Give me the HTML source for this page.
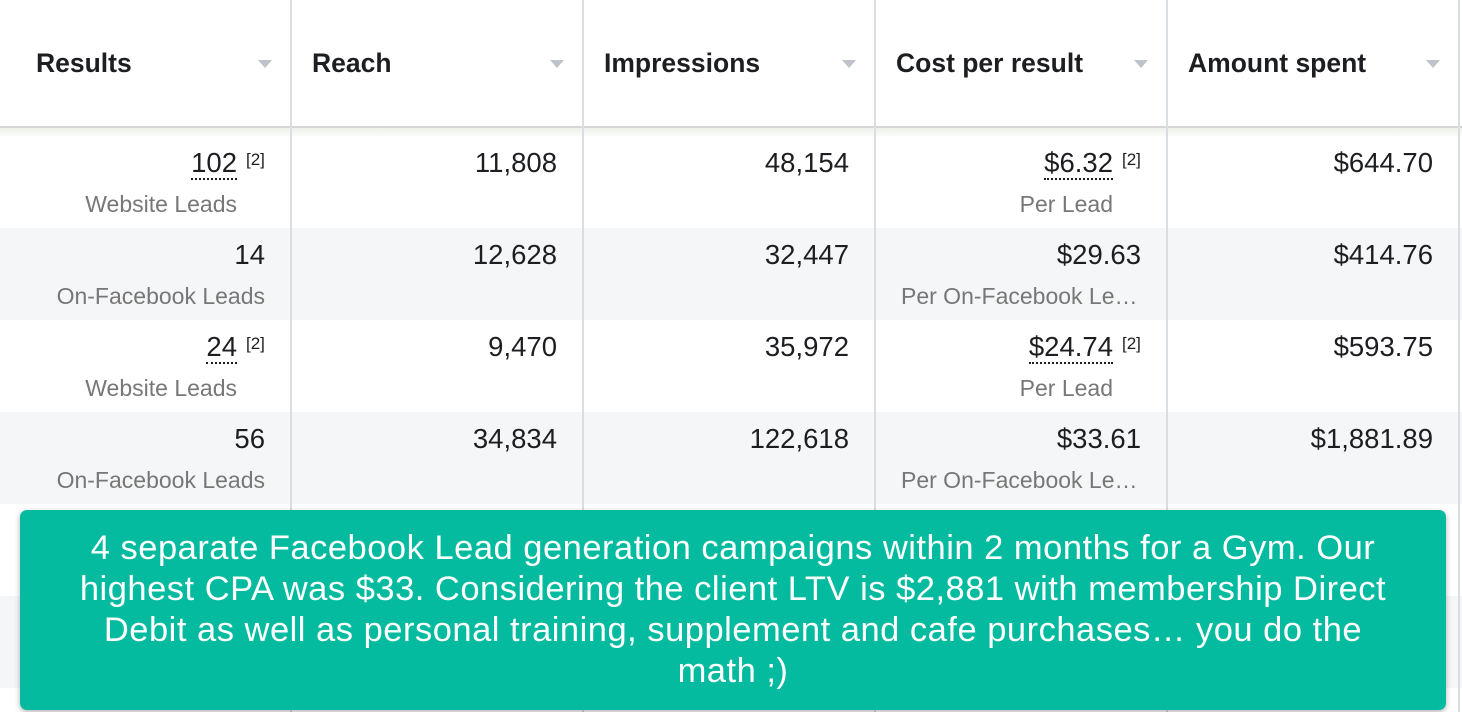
<!DOCTYPE html>
<html><head><meta charset="utf-8"><style>
*{margin:0;padding:0;box-sizing:border-box}
body{width:1462px;height:712px;overflow:hidden;background:#fff;font-family:"Liberation Sans",Arial,sans-serif;position:relative;color:#1c1e21}
.a{position:absolute;white-space:nowrap}
.h{font-weight:bold;font-size:26.5px;top:48px;line-height:30px}
.tri{position:absolute;top:60px;width:0;height:0;border-left:7px solid transparent;border-right:7px solid transparent;border-top:8px solid #bec3c9}
.v{font-size:27.5px;line-height:30px;text-align:right}
.s{font-size:23px;line-height:26px;color:#777;text-align:right}
.sup{font-size:17px;line-height:18px}
.d{border-bottom:2px dotted #1c1e21;line-height:26px}
.vl{position:absolute;top:0;width:2px;height:712px;background:#dadde1}
.row{position:absolute;left:0;width:1462px;height:92px}
.g{background:#f5f6f7}
</style></head><body>
<div class="row g" style="top:228px"></div>
<div class="row g" style="top:412px"></div>
<div class="row g" style="top:596px"></div>
<div class="a" style="left:0;top:126px;width:1462px;height:2px;background:#d4d6d8"></div>
<div class="a" style="left:0;top:128px;width:1462px;height:8px;background:linear-gradient(#eef1ea,#fbfcfa)"></div>
<div class="vl" style="left:290px"></div>
<div class="vl" style="left:582px"></div>
<div class="vl" style="left:874px"></div>
<div class="vl" style="left:1166px"></div>
<div class="vl" style="left:1458px"></div>

<div class="a h" style="left:36px">Results</div><div class="tri" style="left:258px"></div>
<div class="a h" style="left:312px">Reach</div><div class="tri" style="left:550px"></div>
<div class="a h" style="left:604px">Impressions</div><div class="tri" style="left:842px"></div>
<div class="a h" style="left:896px">Cost per result</div><div class="tri" style="left:1134px"></div>
<div class="a h" style="left:1188px">Amount spent</div><div class="tri" style="left:1426px"></div>

<!-- row 1 -->
<div class="a v" style="right:1225px;top:148px"><span class="d">102</span></div>
<div class="a sup" style="left:246px;top:151px">[2]</div>
<div class="a s" style="right:1225px;top:191px">Website Leads</div>
<div class="a v" style="right:905px;top:148px">11,808</div>
<div class="a v" style="right:613px;top:148px">48,154</div>
<div class="a v" style="right:349px;top:148px"><span class="d">$6.32</span></div>
<div class="a sup" style="left:1122px;top:151px">[2]</div>
<div class="a s" style="right:349px;top:191px">Per Lead</div>
<div class="a v" style="right:29px;top:148px">$644.70</div>
<!-- row 2 -->
<div class="a v" style="right:1197px;top:240px">14</div>
<div class="a s" style="right:1197px;top:283px">On-Facebook Leads</div>
<div class="a v" style="right:905px;top:240px">12,628</div>
<div class="a v" style="right:613px;top:240px">32,447</div>
<div class="a v" style="right:321px;top:240px">$29.63</div>
<div class="a s" style="left:901px;top:283px">Per On-Facebook Le…</div>
<div class="a v" style="right:29px;top:240px">$414.76</div>
<!-- row 3 -->
<div class="a v" style="right:1225px;top:332px"><span class="d">24</span></div>
<div class="a sup" style="left:246px;top:335px">[2]</div>
<div class="a s" style="right:1225px;top:375px">Website Leads</div>
<div class="a v" style="right:905px;top:332px">9,470</div>
<div class="a v" style="right:613px;top:332px">35,972</div>
<div class="a v" style="right:349px;top:332px"><span class="d">$24.74</span></div>
<div class="a sup" style="left:1122px;top:335px">[2]</div>
<div class="a s" style="right:349px;top:375px">Per Lead</div>
<div class="a v" style="right:29px;top:332px">$593.75</div>
<!-- row 4 -->
<div class="a v" style="right:1197px;top:424px">56</div>
<div class="a s" style="right:1197px;top:467px">On-Facebook Leads</div>
<div class="a v" style="right:905px;top:424px">34,834</div>
<div class="a v" style="right:613px;top:424px">122,618</div>
<div class="a v" style="right:321px;top:424px">$33.61</div>
<div class="a s" style="left:901px;top:467px">Per On-Facebook Le…</div>
<div class="a v" style="right:29px;top:424px">$1,881.89</div>

<div class="a" style="left:20px;top:510px;width:1426px;height:200px;background:#05bb9f;border-radius:7px;box-shadow:0 2px 6px rgba(0,0,0,.3);color:#fff;font-size:34.5px;letter-spacing:0.5px;line-height:41px;text-align:center;padding:18px 0 0;white-space:nowrap">4 separate Facebook Lead generation campaigns within 2 months for a Gym. Our<br>highest CPA was $33. Considering the client LTV is $2,881 with membership Direct<br>Debit as well as personal training, supplement and cafe purchases… you do the<br>math ;)</div>
</body></html>
